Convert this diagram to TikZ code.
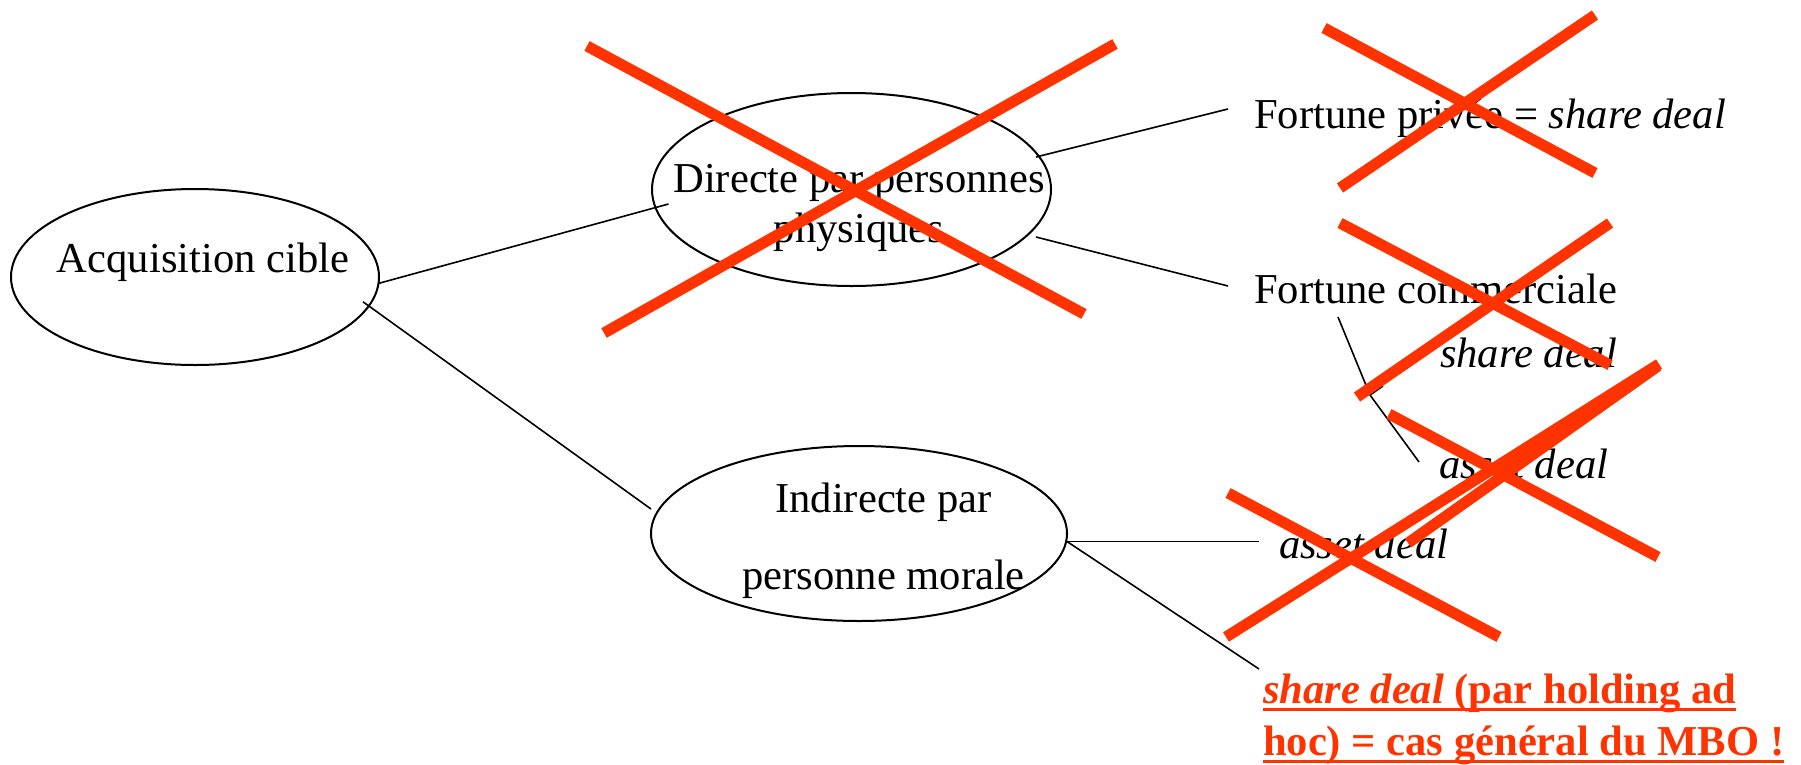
\documentclass[tikz,border=0pt]{standalone}
\usepackage{fontspec}
\setmainfont{Liberation Serif}
\usetikzlibrary{shapes.geometric}
\definecolor{markred}{RGB}{255,51,0}

\begin{document}
\begin{tikzpicture}[x=1pt,y=-1pt,
  every node/.style={inner sep=0pt, outer sep=0pt},
  txt/.style={font=\fontsize{42.6pt}{50pt}\selectfont, anchor=base west},
  ctxt/.style={txt, anchor=base},
  hot/.style={txt, text=markred, font=\fontsize{42.6pt}{50pt}\selectfont\bfseries},
  bubble/.style={ellipse, draw, line width=2pt},
  link/.style={line width=1.6pt},
  xmark/.style={draw=markred, line width=11pt},
  uline/.style={draw=markred, line width=3.5pt}
]
\useasboundingbox (0,0) rectangle (1801,764);

% ellipses
\node[bubble, minimum width=368pt, minimum height=176pt] (acq) at (195,277) {};
\node[bubble, minimum width=399pt, minimum height=193pt] (dir) at (851.5,189.5) {};
\node[bubble, minimum width=416pt, minimum height=175pt] (ind) at (859,533.5) {};

% ellipse labels
\node[ctxt] (acqT) at (203,272) {Acquisition cible};
\node[ctxt] (dirA) at (859,192) {Directe par personnes};
\node[ctxt] (dirB) at (859,242) {physiques};
\node[ctxt] (indA) at (883.5,512) {Indirecte par};
\node[ctxt] (indB) at (883.5,589) {personne morale};

% leaf labels
\node[txt] (fp)  at (1254,128) {Fortune privée = \textit{share deal}};
\node[txt] (fc)  at (1254,303) {Fortune commerciale};
\node[txt] (sd)  at (1440,367) {\textit{share deal}};
\node[txt] (ad1) at (1439,478) {\textit{asset deal}};
\node[txt] (ad2) at (1279,558) {\textit{asset deal}};
\node[hot] (r1)  at (1263,703) {\textit{share deal} (par holding ad};
\node[hot] (r2)  at (1263,755) {hoc) = cas général du MBO !};

% underlines of the conclusion
\draw[uline] ([yshift=-6.5pt]r1.base west) -- ([yshift=-6.5pt]r1.base east);
\draw[uline] ([yshift=-6.5pt]r2.base west) -- ([yshift=-6.5pt]r2.base east);

% connectors
\draw[link] (acq.-2.5) -- ([xshift=16.5pt,yshift=-14.5pt]dir.west);
\draw[link] ([xshift=-8.5pt]acq.-8) -- ([yshift=24.5pt]ind.west);
\draw[link] ([xshift=-15pt,yshift=32.5pt]dir.east) -- ([xshift=-26pt,yshift=19pt]fp.base west);
\draw[link] ([xshift=-15pt,yshift=-47.5pt]dir.east) -- ([xshift=-26pt,yshift=17pt]fc.base west);
\coordinate (fork) at (1370,395);
\coordinate (stub) at (1383,386);
\draw[link] ([xshift=84pt,yshift=-14pt]fc.base west) -- (fork) -- ([xshift=-20pt,yshift=16pt]ad1.base west);
\draw[link] (fork) -- (stub);
\draw[link] ([yshift=-8pt]ind.east) -- ([xshift=-20pt,yshift=16.5pt]ad2.base west);
\draw[link] ([yshift=-8pt]ind.east) -- ([xshift=-4pt,yshift=34pt]r1.base west);

% crossings-out
\draw[xmark] (587,46) -- (1084,314);
\draw[xmark] (604,333) -- (1115,44);
\draw[xmark] (1324,28) -- (1595,173);
\draw[xmark] (1340,188) -- (1595,15);
\draw[xmark] (1340,223) -- (1610,365);
\draw[xmark] (1357,397) -- (1610,223);
\draw[xmark] (1389,414) -- (1658,557);
\draw[xmark] (1408,543) -- (1658,366);
\draw[xmark] (1228,493) -- (1499,637);
\draw[xmark] (1226,637) -- (1659,364);
\end{tikzpicture}
\end{document}
